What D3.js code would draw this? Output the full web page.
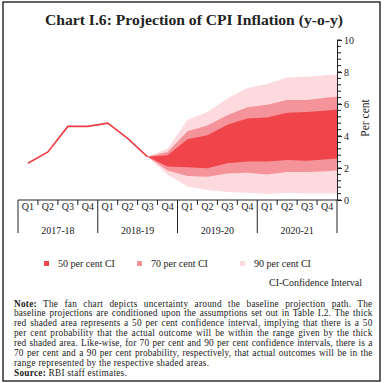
<!DOCTYPE html>
<html><head><meta charset="utf-8">
<script src="https://cdn.jsdelivr.net/npm/d3@7"></script>
<style>body{margin:0;background:#fff}svg{display:block}text{font-family:"Liberation Serif","Times New Roman",serif;fill:#222}</style>
</head><body><svg id="c" width="384" height="383"></svg>
<script>
const quarters = ["Q1","Q2","Q3","Q4","Q1","Q2","Q3","Q4","Q1","Q2","Q3","Q4","Q1","Q2","Q3","Q4"];
const years = ["2017-18","2018-19","2019-20","2020-21"];
const actualX = [0,1,2,3,4,5,6];
const actual = [2.3,3.0,4.6,4.6,4.8,3.85,2.7];
const fanX =  [6,   7,    8,    9,    10,   11,   12,   13,   14,   15,   15.5];
const up90 =  [2.7, 3.2,  5.0,  5.5,  6.35, 7.0,  7.25, 7.65, 7.7,  7.8,  7.85];
const up70 =  [2.7, 3.0,  4.3,  4.65, 5.3,  5.8,  5.95, 6.25, 6.25, 6.4,  6.45];
const up50 =  [2.7, 2.8,  3.8,  4.05, 4.7,  5.1,  5.15, 5.45, 5.5,  5.6,  5.65];
const lo50 =  [2.7, 2.1,  2.05, 1.98, 2.3,  2.4,  2.4,  2.5,  2.45, 2.55, 2.6];
const lo70 =  [2.7, 1.85, 1.5,  1.45, 1.65, 1.7,  1.6,  1.75, 1.75, 1.8,  1.85];
const lo90 =  [2.7, 1.6,  0.85, 0.62, 0.5,  0.45, 0.38, 0.45, 0.4,  0.4,  0.42];
const yTicks = [0,2,4,6,8,10];
const legendLabels = ["50 per cent CI","70 per cent CI","90 per cent CI"];
const bandColors = ["#EF444A","#F4949A","#FDDADD"];
const lineColor = "#EE3C44";
const noteLines = [
 [["Note:",true],[" The fan chart depicts uncertainty around the baseline projection path. The",false]],
 [["baseline projections are conditioned upon the assumptions set out in Table I.2. The thick",false]],
 [["red shaded area represents a 50 per cent confidence interval, implying that there is a 50",false]],
 [["per cent probability that the actual outcome will be within the range given by the thick",false]],
 [["red shaded area. Like-wise, for 70 per cent and 90 per cent confidence intervals, there is a",false]],
 [["70 per cent and a 90 per cent probability, respectively, that actual outcomes will be in the",false]],
 [["range represented by the respective shaded areas.",false]],
 [["Source:",true],[" RBI staff estimates.",false]]
];
const justified = [true,true,true,true,true,true,false,false];

const svg = d3.select("#c");
svg.append("rect").attr("x",3).attr("y",2).attr("width",377).attr("height",379)
  .attr("fill","none").attr("stroke","#111").attr("stroke-width",1.3);

svg.append("text").attr("x",194).attr("y",25).attr("text-anchor","middle")
  .attr("font-size",15).attr("font-weight","bold").attr("fill","#222")
  .attr("textLength",298).attr("lengthAdjust","spacingAndGlyphs")
  .text("Chart I.6: Projection of CPI Inflation (y-o-y)");

const x = d3.scaleLinear().domain([-0.5,15.5]).range([18,337]);
const y = d3.scaleLinear().domain([0,10]).range([200,40]);

// fan bands
const bands = [[up90,lo90],[up70,lo70],[up50,lo50]];
const colorsOrder = [bandColors[2],bandColors[1],bandColors[0]];
bands.forEach((b,k)=>{
  const area = d3.area().x((d,i)=>x(fanX[i])).y0((d,i)=>y(b[1][i])).y1((d,i)=>y(b[0][i]));
  svg.append("path").datum(fanX).attr("d",area).attr("fill",colorsOrder[k]);
});

// actual line
svg.append("path").datum(actual)
  .attr("d",d3.line().x((d,i)=>x(actualX[i])).y(d=>y(d)))
  .attr("fill","none").attr("stroke",lineColor).attr("stroke-width",1.6);

// y axis (right)
const yAxis = d3.axisRight(y).tickValues(yTicks).tickSize(5).tickPadding(2).tickFormat(d3.format("d"));
const gy = svg.append("g").attr("transform","translate(337,0)").call(yAxis);
gy.select(".domain").attr("stroke","#222");
gy.selectAll(".tick line").attr("stroke","#222");
gy.selectAll(".tick text").attr("font-size",10).attr("font-family","Liberation Serif").attr("fill","#222");
const minor = d3.range(0,10.01,0.4);
svg.append("g").selectAll("line").data(minor).join("line")
  .attr("x1",337).attr("x2",341).attr("y1",d=>y(d)).attr("y2",d=>y(d)).attr("stroke","#222");

svg.append("text").attr("transform","translate(369,118) rotate(-90)")
  .attr("text-anchor","middle").attr("font-size",11.5).text("Per cent");

// x axis
svg.append("line").attr("x1",x(-0.5)).attr("x2",x(15.5)).attr("y1",200).attr("y2",200).attr("stroke","#222");
const bounds = d3.range(-0.5,15.6,1);
svg.append("g").selectAll("line").data(bounds).join("line")
  .attr("x1",d=>x(d)).attr("x2",d=>x(d)).attr("y1",200)
  .attr("y2",(d,i)=> i%4===0 ? 233 : 205).attr("stroke","#222");
svg.append("g").selectAll("text").data(quarters).join("text")
  .attr("x",(d,i)=>x(i)).attr("y",210).attr("text-anchor","middle").attr("font-size",10).text(d=>d);
svg.append("g").selectAll("text").data(years).join("text")
  .attr("x",(d,i)=>x(i*4+1.5)).attr("y",234).attr("text-anchor","middle").attr("font-size",10).text(d=>d);

// legend
const legX = [44,137,240];
legendLabels.forEach((l,i)=>{
  svg.append("rect").attr("x",legX[i]).attr("y",261).attr("width",5).attr("height",5).attr("fill",bandColors[i]);
  svg.append("text").attr("x",legX[i]+14).attr("y",267).attr("font-size",10).text(l);
});

svg.append("text").attr("x",362).attr("y",286).attr("text-anchor","end").attr("font-size",10).text("CI-Confidence Interval");

// notes
const left = 14, right = 372.5;
const baseLS = 0.25;
noteLines.forEach((parts,i)=>{
  const t = svg.append("text").attr("x",left).attr("y",306.5+i*9.9).attr("font-size",9.3)
    .attr("letter-spacing",0);
  parts.forEach(p=>{ t.append("tspan").attr("font-weight",p[1]?"bold":"normal").text(p[0]); });
  const str = parts.map(p=>p[0]).join("");
  if (justified[i]) {
    const w = t.node().getComputedTextLength();
    const extra = right-left-w;
    const nChars = str.length;
    const spaces = str.split(" ").length-1;
    let ls = Math.min(baseLS, extra*0.5/nChars);
    const ws = (extra - ls*nChars)/spaces;
    t.attr("letter-spacing",ls).attr("word-spacing",ws);
  } else {
    t.attr("letter-spacing",baseLS);
  }
});
</script></body></html>
